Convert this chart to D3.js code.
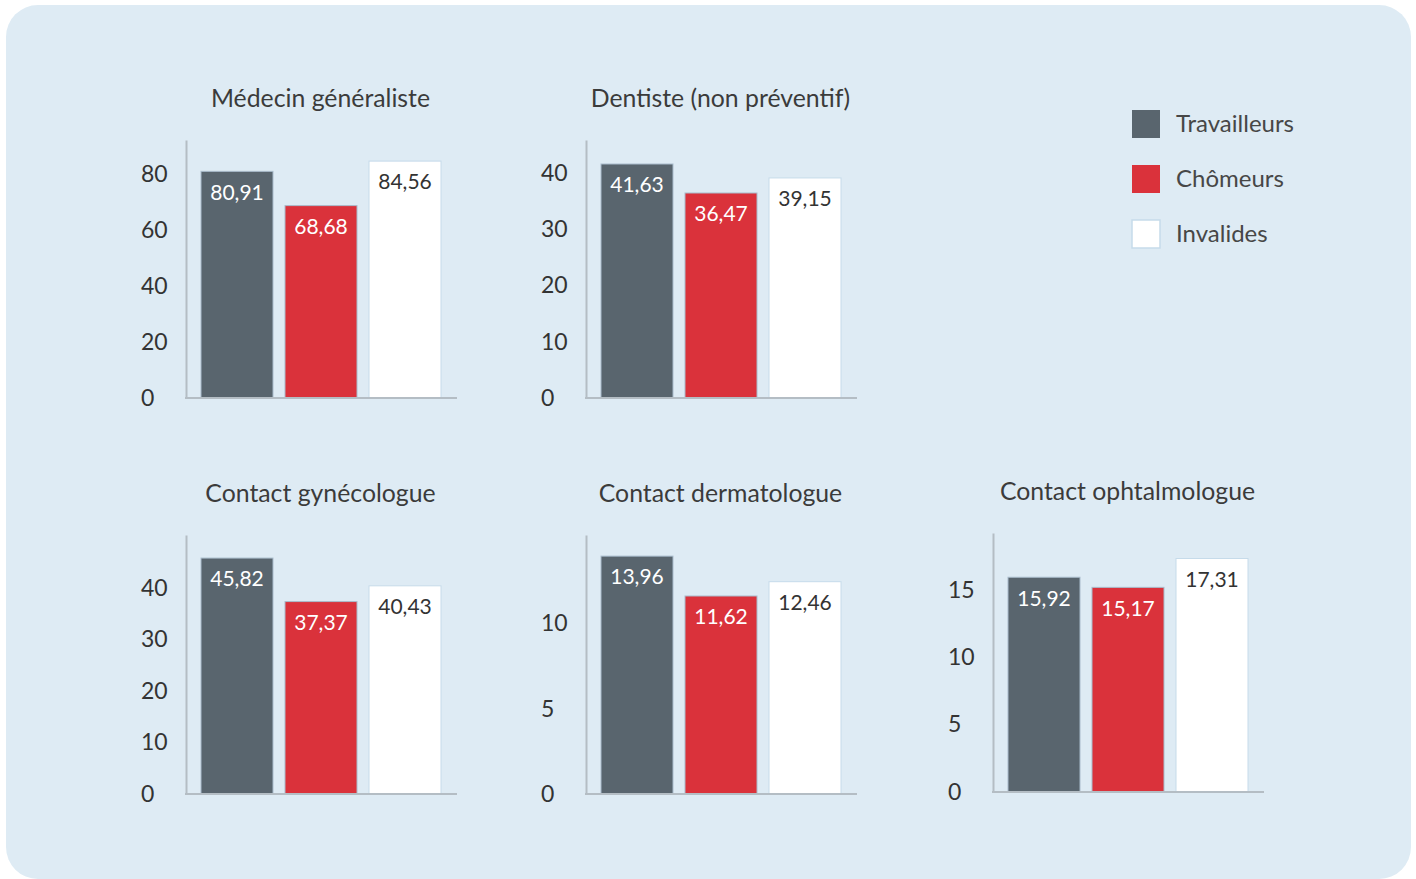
<!DOCTYPE html>
<html lang="fr">
<head>
<meta charset="utf-8">
<script src="https://cdn.jsdelivr.net/npm/d3@7"></script>
<style>
  html, body { margin: 0; padding: 0; background: #ffffff; }
  svg { display: block; font-family: Lato, "Open Sans", sans-serif; }
</style>
</head>
<body>
<svg id="chart" width="1416" height="879"></svg>
<script>
// Series and panel data
const seriesNames = ["Travailleurs", "Chômeurs", "Invalides"];
const seriesColors = ["#59656e", "#da323b", "#ffffff"];
const panelTitles = [
  "Médecin généraliste",
  "Dentiste (non préventif)",
  "Contact gynécologue",
  "Contact dermatologue",
  "Contact ophtalmologue"
];
const valuesTravailleurs = [80.91, 41.63, 45.82, 13.96, 15.92];
const valuesChomeurs     = [68.68, 36.47, 37.37, 11.62, 15.17];
const valuesInvalides    = [84.56, 39.15, 40.43, 12.46, 17.31];
const tickValues = [
  [0, 20, 40, 60, 80],
  [0, 10, 20, 30, 40],
  [0, 10, 20, 30, 40],
  [0, 5, 10],
  [0, 5, 10, 15]
];
const axisMax = [92.1, 45.9, 50.3, 15.2, 19.2];

// Panel placement: left edge of the value axis, baseline, axis height
const panelLayout = [
  { x: 186, base: 398, h: 258, titleY: 98 },
  { x: 586, base: 398, h: 258, titleY: 98 },
  { x: 186, base: 794, h: 259, titleY: 493 },
  { x: 586, base: 794, h: 259, titleY: 493 },
  { x: 993, base: 792, h: 259, titleY: 491 }
];
const plotWidth = 271;

const fmt = v => d3.format(".2f")(v).replace(".", ",");

const svg = d3.select("#chart");

// Rounded background card
svg.append("rect")
  .attr("x", 6).attr("y", 5)
  .attr("width", 1405).attr("height", 874)
  .attr("rx", 32).attr("ry", 32)
  .attr("fill", "#deebf4");

panelTitles.forEach((title, i) => {
  const L = panelLayout[i];
  const values = [valuesTravailleurs[i], valuesChomeurs[i], valuesInvalides[i]];

  const y = d3.scaleLinear()
    .domain([0, axisMax[i]])
    .range([L.base, L.base - L.h]);

  const x = d3.scaleBand()
    .domain(seriesNames)
    .range([L.x + 9, L.x + 9 + 3 * 84])
    .paddingInner(12 / 84)
    .paddingOuter(6 / 84);

  const g = svg.append("g");

  // Title
  g.append("text")
    .attr("x", L.x + plotWidth / 2 - 1)
    .attr("y", L.titleY)
    .attr("dy", "0.35em")
    .attr("text-anchor", "middle")
    .attr("font-size", 24.8)
    .attr("fill", "#3b3b3b")
    .text(title);

  // Bars
  g.selectAll("rect.bar")
    .data(values.map((v, k) => ({ name: seriesNames[k], v, k })))
    .join("rect")
    .attr("class", "bar")
    .attr("x", d => x(d.name))
    .attr("y", d => y(d.v))
    .attr("width", x.bandwidth())
    .attr("height", d => y(0) - y(d.v))
    .attr("fill", d => seriesColors[d.k])
    .attr("stroke", d => d.k === 2 ? "#c6dbea" : "#a9bccb")
    .attr("stroke-width", 1);

  // Value labels inside the bars
  g.selectAll("text.val")
    .data(values.map((v, k) => ({ name: seriesNames[k], v, k })))
    .join("text")
    .attr("class", "val")
    .attr("x", d => x(d.name) + x.bandwidth() / 2)
    .attr("y", d => y(d.v) + 21)
    .attr("dy", "0.35em")
    .attr("text-anchor", "middle")
    .attr("font-size", 21)
    .attr("fill", d => d.k === 2 ? "#333333" : "#ffffff")
    .text(d => fmt(d.v));

  // Value axis
  const axis = d3.axisLeft(y)
    .tickValues(tickValues[i])
    .tickSize(0)
    .tickSizeOuter(0)
    .tickFormat(d3.format("d"));
  const ag = g.append("g")
    .attr("transform", `translate(${L.x},0)`)
    .call(axis);
  ag.select(".domain")
    .attr("stroke", "#b4bdc4")
    .attr("stroke-width", 2);
  ag.selectAll(".tick text")
    .attr("x", -45)
    .attr("text-anchor", "start")
    .attr("font-size", 23)
    .attr("font-family", "Lato, 'Open Sans', sans-serif")
    .attr("fill", "#333333");

  // Baseline
  g.append("line")
    .attr("x1", L.x - 1).attr("x2", L.x + plotWidth)
    .attr("y1", y(0)).attr("y2", y(0))
    .attr("stroke", "#b4bdc4")
    .attr("stroke-width", 2);
});

// Legend
const legend = svg.append("g");
seriesNames.forEach((name, k) => {
  const ly = 110 + k * 55;
  legend.append("rect")
    .attr("x", 1132).attr("y", ly)
    .attr("width", 28).attr("height", 28)
    .attr("fill", seriesColors[k])
    .attr("stroke", k === 2 ? "#c6dbea" : "none")
    .attr("stroke-width", 1.5);
  legend.append("text")
    .attr("x", 1176).attr("y", ly + 14)
    .attr("dy", "0.35em")
    .attr("font-size", 24)
    .attr("fill", "#474747")
    .text(name);
});
</script>
</body>
</html>
